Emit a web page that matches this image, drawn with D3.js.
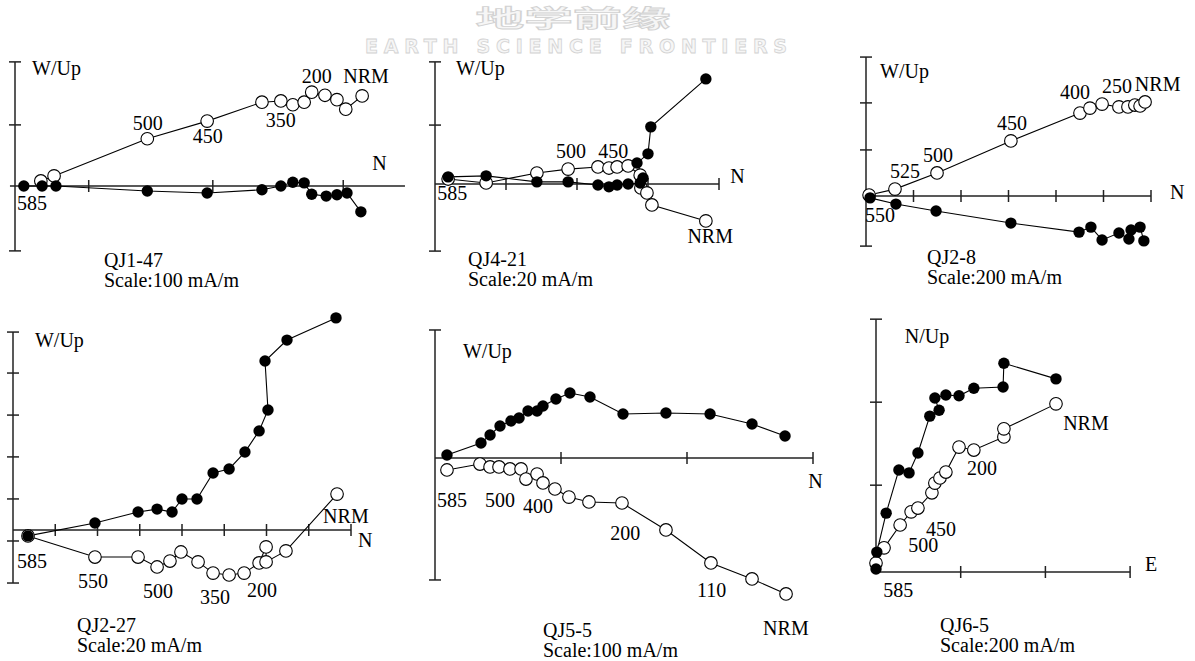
<!DOCTYPE html>
<html>
<head>
<meta charset="utf-8">
<script src="https://cdn.jsdelivr.net/npm/d3@7"></script>
<style>
  body { margin: 0; background: #fff; }
  svg { display: block; }
</style>
</head>
<body>
<div id="chart"></div>
<script>
// values in mA/m: [x, y]
// open = vertical projection, solid = horizontal projection
const p1Open = [[41,8],[62,16],[210,75],[305,103],[392,133],[422,135],[441,129],[459,133],[471,149],[492,144],[511,137],[525,122],[551,143]];
const p1Solid = [[14,0],[43,0],[65,0],[210,-8],[305,-11],[392,-6],[422,0],[441,6],[459,5],[471,-13],[494,-16],[511,-14],[527,-11],[549,-41]];
const p1Labels = [["W/Up",27,176],["500",187,89],["450",282,68],["350",398,94],["200",455,163],["NRM",521,163],["585",3,-38],["N",567,25]];
const p1XTicks = [117, 314, 521];
const p1YTicks = [-103, 97, 197];

const p2Open = [[3.7,1.4],[14.4,0.3],[28.7,3.1],[37.5,4.2],[45.9,4.8],[49.0,4.5],[51.3,4.8],[54.4,5.1],[57.8,2.5],[58.0,-1.1],[59.7,-2.5],[61.1,-5.9],[76.3,-10.4]];
const p2Solid = [[3.7,2.0],[14.4,2.3],[28.7,0.6],[37.5,0.6],[45.9,-0.3],[49.0,-0.8],[51.3,-0.3],[54.4,0],[57.8,0.3],[58.6,1.7],[56.9,5.9],[60.0,8.5],[60.8,16.1],[76.3,29.6]];
const p2Labels = [["W/Up",5.9,30.7],["500",34.1,7.3],["450",46.0,7.3],["585",0.6,-4.5],["N",83.2,0.3],["NRM",71.1,-16.6]];
const p2XTicks = [20, 40, 60, 80];
const p2YTicks = [-18.9, 16.6, 34.4];

const p3Open = [[13,4],[122,29],[299,97],[610,232],[901,349],[943,370],[994,387],[1065,375],[1103,375],[1132,383],[1154,379],[1175,396]];
const p3Solid = [[17,-8],[126,-34],[295,-63],[610,-114],[897,-152],[947,-131],[994,-185],[1065,-156],[1107,-181],[1116,-143],[1154,-131],[1170,-189]];
const p3Labels = [["W/Up",59,497],["550",-4,-109],["525",101,76],["500",240,143],["450",552,278],["400",817,408],["250",994,434],["NRM",1132,442],["N",1280,-13]];
const p3XTicks = [200, 400, 600, 800, 1000, 1200];
const p3YTicks = [-211, 194, 392, 585];

const p4Solid = [[7.1,-2.8],[38.8,3.3],[59.2,8.5],[68.2,9.9],[75.3,8.5],[80.0,14.7],[87.1,14.7],[94.7,27.0],[102.3,28.9],[109.8,36.9],[116.5,46.9],[120.7,56.8],[119.3,80.0],[129.7,89.9],[152.9,100.4]];
const p4Open = [[7.1,-2.8],[38.8,-12.8],[59.2,-12.8],[68.2,-17.5],[74.3,-14.7],[79.5,-10.4],[87.6,-15.1],[94.7,-20.4],[102.3,-21.3],[109.4,-20.4],[116.5,-15.6],[119.8,-8.0],[119.8,-15.1],[129.2,-9.9],[153.4,17.0]];
const p4Labels = [["W/Up",10.4,86.6],["585",1.9,-18.0],["550",30.8,-27.5],["500",61.5,-32.2],["350",88.5,-35.0],["200",110.8,-31.7],["NRM",146.8,3.3],["N",163.3,-8.0]];
const p4XTicks = [20, 40, 60, 80, 100, 120, 140, 160];
const p4YTicks = [-25.1, -5.2, 14.7, 34.6, 54.4, 74.3, 93.7];

const p5Solid = [[9.5,2.4],[36.5,11.9],[43.7,18.3],[51.6,25.4],[60.3,29.4],[66.7,31.7],[73.8,37.3],[81.0,37.3],[85.7,41.3],[96.0,46.8],[107.1,51.6],[123.0,48.4],[149.2,34.9],[183.3,35.7],[218.3,34.9],[251.6,27.0],[277.8,17.5]];
const p5Open = [[9.5,-9.5],[35.7,-4.8],[43.7,-7.1],[50.8,-7.1],[59.5,-8.7],[68.3,-8.7],[72.2,-16.7],[81.0,-12.7],[85.7,-19.8],[95.2,-24.6],[106.3,-31.0],[122.2,-34.9],[148.4,-35.7],[183.3,-57.1],[219.0,-83.3],[251.6,-96.0],[278.6,-107.9]];
const p5Labels = [["W/Up",22.2,79.4],["585",1.6,-38.9],["500",39.7,-38.9],["400",69.9,-43.7],["200",139.0,-65.1],["110",208.0,-110.4],["NRM",260.4,-140.5],["N",296.2,-23.8]];
const p5XTicks = [100, 200, 300];
const p5YTicks = [-96.8, 101.6];

const p6Solid = [[0,7],[2,47],[24,139],[54,241],[78,234],[99,281],[127,368],[149,382],[139,411],[165,418],[196,416],[231,434],[300,437],[302,493],[425,456]];
const p6Open = [[0,21],[19,57],[57,111],[83,142],[99,151],[132,187],[139,210],[151,222],[165,236],[196,295],[231,288],[302,319],[302,338],[425,397]];
const p6Labels = [["N/Up",68,541],["NRM",442,335],["200",215,229],["450",118,85],["500",76,47],["585",17,-59],["E",635,2]];
const p6XTicks = [200, 400, 600];
const p6YTicks = [205, 401, 597];

const names = ["QJ1-47", "QJ4-21", "QJ2-8", "QJ2-27", "QJ5-5", "QJ6-5"];
const scales = [100, 20, 200, 20, 100, 200];

// layout of each little plot (pixels)
const panels = [
  {ox: 15,  oy: 186, u: 63,    xStart: -8, xEnd: 619,  yMin: -103,  yMax: 197,  cap: false, tx: 104, ty: 267, open: p1Open, solid: p1Solid, labels: p1Labels, xt: p1XTicks, yt: p1YTicks},
  {ox: 435, oy: 184, u: 71,    xStart: 0,  xEnd: 80,   yMin: -18.9, yMax: 34.4, cap: true,  tx: 468, ty: 266, open: p2Open, solid: p2Solid, labels: p2Labels, xt: p2XTicks, yt: p2YTicks},
  {ox: 866, oy: 196, u: 47.5,  xStart: 0,  xEnd: 1200, yMin: -211,  yMax: 585,  cap: true,  tx: 927, ty: 264, open: p3Open, solid: p3Solid, labels: p3Labels, xt: p3XTicks, yt: p3YTicks},
  {ox: 13,  oy: 530, u: 42.25, xStart: 0,  xEnd: 160,  yMin: -25.1, yMax: 93.7, cap: true,  tx: 77,  ty: 632, open: p4Open, solid: p4Solid, labels: p4Labels, xt: p4XTicks, yt: p4YTicks},
  {ox: 435, oy: 458, u: 126,   xStart: 0,  xEnd: 300,  yMin: -96.8, yMax: 101.6,cap: true,  tx: 543, ty: 637, open: p5Open, solid: p5Solid, labels: p5Labels, xt: p5XTicks, yt: p5YTicks},
  {ox: 876, oy: 572, u: 84.7,  xStart: 0,  xEnd: 600,  yMin: 0,     yMax: 597,  cap: true,  tx: 940, ty: 632, open: p6Open, solid: p6Solid, labels: p6Labels, xt: p6XTicks, yt: p6YTicks}
];

const width = 1195, height = 661;
const svg = d3.select("#chart").append("svg")
  .attr("width", width)
  .attr("height", height)
  .attr("viewBox", [0, 0, width, height]);

const font = "'Liberation Serif', 'Times New Roman', 'DejaVu Serif', serif";
const fs = 20;

// faint journal watermark
const wm = svg.append("g")
  .attr("fill", "#f6f6f6")
  .attr("stroke", "#d2d2d2")
  .attr("stroke-width", 0.8)
  .attr("text-anchor", "middle");
wm.append("text")
  .attr("x", 573).attr("y", 27)
  .attr("font-family", "'Noto Sans CJK SC', sans-serif")
  .attr("font-weight", "bold")
  .attr("font-size", 24)
  .attr("textLength", 195)
  .attr("lengthAdjust", "spacingAndGlyphs")
  .text("地学前缘");
wm.append("text")
  .attr("x", 576).attr("y", 53)
  .attr("font-family", "'DejaVu Sans', sans-serif")
  .attr("font-weight", "bold")
  .attr("font-size", 19)
  .attr("textLength", 422)
  .attr("lengthAdjust", "spacing")
  .text("EARTH SCIENCE FRONTIERS");

const tk = 6;

panels.forEach((p, i) => {
  const s = scales[i];
  const x = d3.scaleLinear().domain([0, s]).range([p.ox, p.ox + p.u]);
  const y = d3.scaleLinear().domain([0, s]).range([p.oy, p.oy - p.u]);
  const g = svg.append("g");

  // axes
  const ax = g.append("g").attr("stroke", "#222").attr("stroke-width", 1.5);
  ax.append("line")
    .attr("x1", x(p.xStart)).attr("x2", x(p.xEnd))
    .attr("y1", y(0)).attr("y2", y(0));
  ax.append("line")
    .attr("x1", x(0)).attr("x2", x(0))
    .attr("y1", y(p.yMin)).attr("y2", y(p.yMax));
  ax.selectAll(".xt")
    .data(p.xt.filter(v => p.cap || v < p.xEnd))
    .join("line")
    .attr("x1", d => x(d)).attr("x2", d => x(d))
    .attr("y1", y(0) - tk).attr("y2", y(0) + tk);
  ax.selectAll(".yt")
    .data(p.yt)
    .join("line")
    .attr("y1", d => y(d)).attr("y2", d => y(d))
    .attr("x1", x(0) - tk).attr("x2", x(0) + tk);

  const line = d3.line().x(d => x(d[0])).y(d => y(d[1]));
  g.append("path").datum(p.solid)
    .attr("d", line).attr("fill", "none")
    .attr("stroke", "#000").attr("stroke-width", 1.1);
  g.append("path").datum(p.open)
    .attr("d", line).attr("fill", "none")
    .attr("stroke", "#000").attr("stroke-width", 1.1);

  g.append("g").selectAll("circle")
    .data(p.open)
    .join("circle")
    .attr("cx", d => x(d[0])).attr("cy", d => y(d[1]))
    .attr("r", 6.3)
    .attr("fill", "#fff").attr("stroke", "#000").attr("stroke-width", 1.1);
  g.append("g").selectAll("circle")
    .data(p.solid)
    .join("circle")
    .attr("cx", d => x(d[0])).attr("cy", d => y(d[1]))
    .attr("r", 5.7)
    .attr("fill", "#000");

  g.append("g").selectAll("text")
    .data(p.labels)
    .join("text")
    .attr("x", d => x(d[1])).attr("y", d => y(d[2]))
    .attr("font-family", font).attr("font-size", fs)
    .text(d => d[0]);

  g.append("text")
    .attr("x", p.tx).attr("y", p.ty)
    .attr("font-family", font).attr("font-size", fs)
    .text(names[i]);
  g.append("text")
    .attr("x", p.tx).attr("y", p.ty + 20)
    .attr("font-family", font).attr("font-size", fs)
    .text("Scale:" + s + " mA/m");
});
</script>
</body>
</html>
